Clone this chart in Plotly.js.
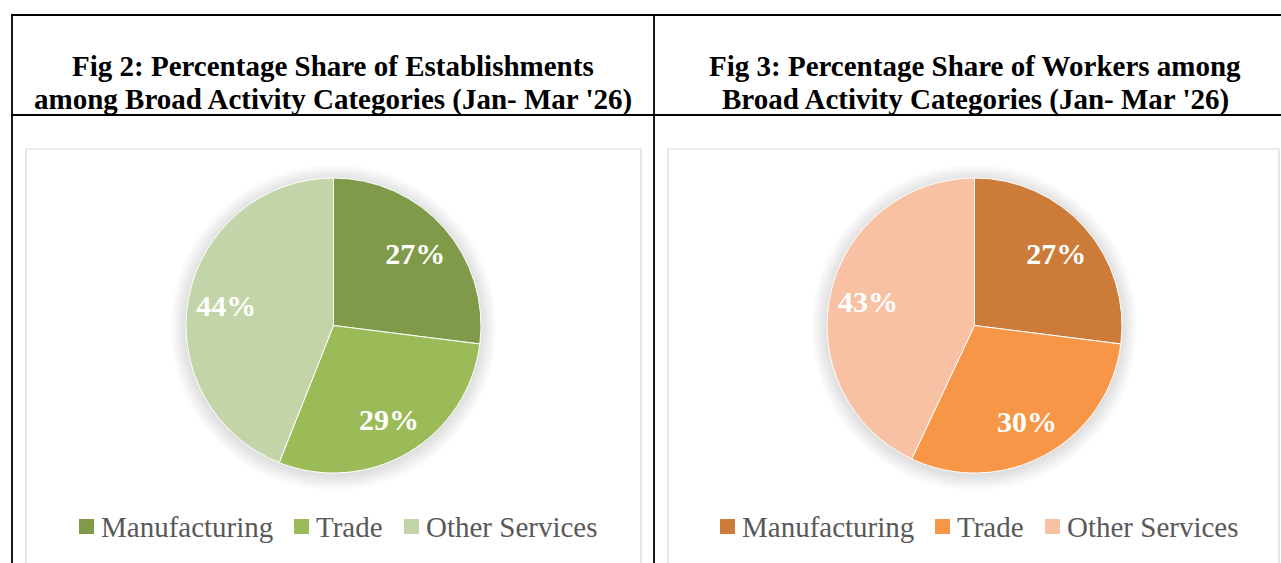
<!DOCTYPE html>
<html>
<head>
<meta charset="utf-8">
<script src="https://cdn.plot.ly/plotly-3.0.1.min.js"></script>
<style>
  html, body { margin: 0; padding: 0; background: #ffffff; }
  #chart { width: 1281px; height: 563px; }
</style>
</head>
<body>
<div id="chart"></div>
<script>
// ---- data ----
const categories = ['Manufacturing', 'Trade', 'Other Services'];
const establishmentShare = [27, 29, 44];
const workerShare = [27, 30, 43];
const titleFig2 = ['Fig 2: Percentage Share of Establishments', "among Broad Activity Categories (Jan- Mar '26)"];
const titleFig3 = ['Fig 3: Percentage Share of Workers among', "Broad Activity Categories (Jan- Mar '26)"];
const greenColors = ['#7F9A48', '#9BBB59', '#C3D5A8'];
const orangeColors = ['#CC7B38', '#F79646', '#F9C1A3'];

// ---- layout helpers ----
const W = 1281, H = 563;
const px = x => x / W;
const py = y => 1 - y / H;
const SERIF = '"Times New Roman", "Liberation Serif", serif';
const R = 147.5;
const panels = [
  { cx: 333.5, cy: 325.5, values: establishmentShare, colors: greenColors, title: titleFig2, tx: 333 },
  { cx: 974.5, cy: 325.5, values: workerShare, colors: orangeColors, title: titleFig3, tx: 975 }
];

const traces = [];
panels.forEach(p => {
  const domain = { x: [px(p.cx - R), px(p.cx + R)], y: [py(p.cy + R), py(p.cy - R)] };
  // filled pie
  traces.push({
    type: 'pie',
    labels: categories,
    values: p.values,
    sort: false,
    direction: 'clockwise',
    rotation: 0,
    marker: { colors: p.colors, line: { color: '#ffffff', width: 1 } },
    textinfo: 'none',
    hoverinfo: 'label+percent',
    showlegend: false,
    domain: domain
  });
  // transparent ring carrying the data labels (places them toward the rim)
  traces.push({
    type: 'pie',
    labels: categories,
    values: p.values,
    sort: false,
    direction: 'clockwise',
    rotation: 0,
    hole: 0.48,
    marker: { colors: ['rgba(0,0,0,0)', 'rgba(0,0,0,0)', 'rgba(0,0,0,0)'], line: { width: 0 } },
    texttemplate: '<b>%{value}%</b>',
    textposition: 'inside',
    insidetextorientation: 'horizontal',
    textfont: { family: SERIF, size: 30, color: '#ffffff' },
    hoverinfo: 'skip',
    showlegend: false,
    domain: domain
  });
});

const shapes = [];
const annotations = [];

// table grid lines
const lineStyle = { color: '#000000', width: 1.8 };
shapes.push({ type: 'line', xref: 'paper', yref: 'paper', x0: px(11), x1: px(1290), y0: py(15), y1: py(15), line: lineStyle });
shapes.push({ type: 'line', xref: 'paper', yref: 'paper', x0: px(11), x1: px(1290), y0: py(115), y1: py(115), line: lineStyle });
shapes.push({ type: 'line', xref: 'paper', yref: 'paper', x0: px(12), x1: px(12), y0: py(14), y1: py(570), line: lineStyle });
shapes.push({ type: 'line', xref: 'paper', yref: 'paper', x0: px(654), x1: px(654), y0: py(14), y1: py(570), line: lineStyle });

// chart boxes
[[26, 641], [668, 1279]].forEach(b => {
  shapes.push({ type: 'rect', xref: 'paper', yref: 'paper', x0: px(b[0]), x1: px(b[1]), y0: py(149), y1: py(575),
    line: { color: '#D9D9D9', width: 1.2 }, fillcolor: 'rgba(0,0,0,0)', layer: 'below' });
});

panels.forEach(p => {
  // soft shadow behind the pie
  for (let k = 16; k >= 1; k--) {
    shapes.push({ type: 'circle', xref: 'paper', yref: 'paper',
      x0: px(p.cx - R - k), x1: px(p.cx + R + k), y0: py(p.cy + 2 + R + k), y1: py(p.cy + 2 - R - k),
      line: { width: 0 }, fillcolor: 'rgba(0,0,0,0.009)', layer: 'below' });
  }
  // titles
  [66, 99].forEach((y, i) => {
    annotations.push({ xref: 'paper', yref: 'paper', x: px(p.tx), y: py(y), xanchor: 'center', yanchor: 'middle',
      text: '<b>' + p.title[i] + '</b>', showarrow: false, font: { family: SERIF, size: 29, color: '#000000' } });
  });
  // legend
  const off = p.cx - 333.5;
  const sqX = [79, 294, 404];
  const txX = [101, 316, 426];
  categories.forEach((c, i) => {
    shapes.push({ type: 'rect', xref: 'paper', yref: 'paper', x0: px(sqX[i] + off), x1: px(sqX[i] + off + 15),
      y0: py(534), y1: py(519), line: { width: 0 }, fillcolor: p.colors[i] });
    annotations.push({ xref: 'paper', yref: 'paper', x: px(txX[i] + off), y: py(527), xanchor: 'left', yanchor: 'middle',
      xshift: -2, text: c, showarrow: false, font: { family: SERIF, size: 29, color: '#595959' } });
  });
});

const layout = {
  width: W, height: H,
  margin: { l: 0, r: 0, t: 0, b: 0 },
  paper_bgcolor: '#ffffff',
  plot_bgcolor: '#ffffff',
  showlegend: false,
  shapes: shapes,
  annotations: annotations
};

Plotly.newPlot('chart', traces, layout, { displayModeBar: false, staticPlot: true });
</script>
</body>
</html>
